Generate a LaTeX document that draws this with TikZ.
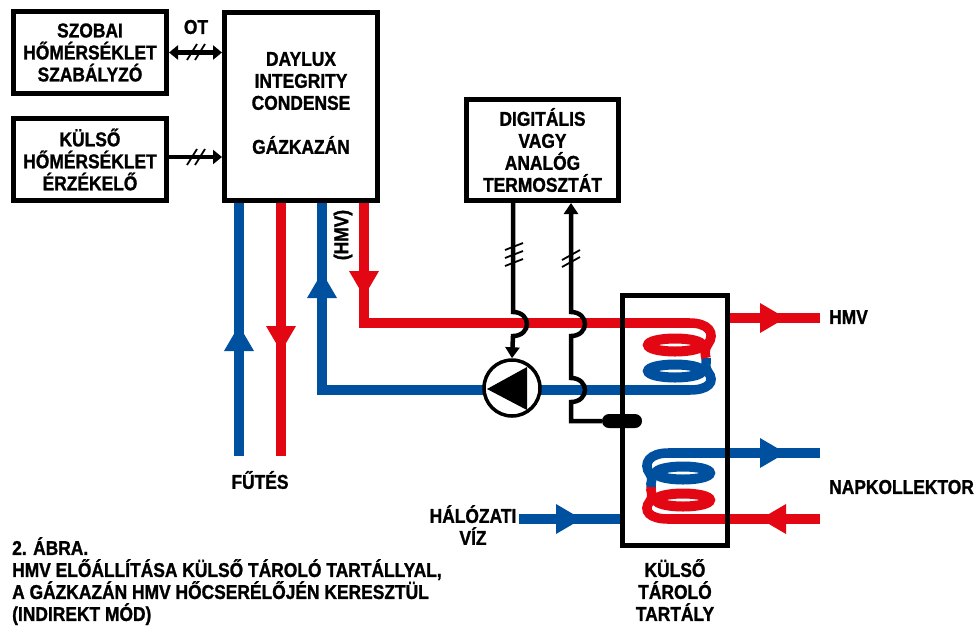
\documentclass[tikz,border=0pt]{standalone}
\usepackage{fontspec}
\usepackage{xcolor}
\usetikzlibrary{arrows.meta,decorations.markings}
\setmainfont{Liberation Sans}[FakeStretch=0.87,FakeBold=1.2]
\definecolor{pipeblue}{HTML}{0050A0}
\definecolor{pipered}{HTML}{E30613}

\begin{document}
\begin{tikzpicture}[
        x=1pt,
        y=-1pt,
        box/.style={
            draw,
            rectangle,
            line width=5pt,
            minimum width=153pt,
            align=center,
            font=\bfseries\fontsize{20}{22}\selectfont
        },
        lbl/.style={
            inner sep=0pt,
            align=center,
            font=\bfseries\fontsize{20}{22}\selectfont
        },
        pipe/.style={
            line width=9.5pt
        },
        bluepipe/.style={
            pipe,
            color=pipeblue
        },
        redpipe/.style={
            pipe,
            color=pipered
        },
        bluecoil/.style={
            line width=10pt,
            color=pipeblue
        },
        redcoil/.style={
            line width=10pt,
            color=pipered
        },
        head/.style={
            postaction={decorate,decoration={markings,
                mark=at position #1 with {\arrow{Triangle[length=26pt,width=28pt]}}}}
        },
        wire/.style={
            line width=4.5pt
        },
        signal/.style={
            line width=4.5pt,
            arrows={Triangle[length=9pt,width=14pt]-Triangle[length=9pt,width=14pt]}
        },
        slash/.style={
            line width=1.8pt
        }
    ]
    \useasboundingbox (0,0) rectangle (976,625);
    
    \node[box, minimum height=82pt] (szobai) at (90,52.5) {SZOBAI\\HŐMÉRSÉKLET\\SZABÁLYZÓ};
    \node[box, minimum height=82pt] (kulso) at (90,159.5) {KÜLSŐ\\HŐMÉRSÉKLET\\ÉRZÉKELŐ};
    \node[box, minimum height=188pt] (boiler) at (301,106.5) {};
    \node[box, minimum width=152pt, minimum height=101pt] (termostat) at (542.5,150) {DIGITÁLIS\\VAGY\\ANALÓG\\TERMOSZTÁT};
    
    \node[lbl] (boilertext) at (301,103) {DAYLUX\\INTEGRITY\\CONDENSE\\[22pt]GÁZKAZÁN};
    \node[lbl] (ot) at (196,27) {OT};
    \node[lbl, rotate=90] (hmvpipe) at (343,235) {(HMV)};
    \node[lbl] (futes) at (260,480) {FŰTÉS};
    \node[lbl] (halozati) at (473,525) {HÁLÓZATI\\VÍZ};
    \node[lbl, anchor=west] (hmvout) at (829,317) {HMV};
    \node[lbl, anchor=west] (napkollektor) at (829,487) {NAPKOLLEKTOR};
    \node[lbl] (tarolotext) at (675,590) {KÜLSŐ\\TÁROLÓ\\TARTÁLY};
    \node[lbl, anchor=north west, align=left] (caption) at (12,537) {2. ÁBRA.\\HMV ELŐÁLLÍTÁSA KÜLSŐ TÁROLÓ TARTÁLLYAL,\\A GÁZKAZÁN HMV HŐCSERÉLŐJÉN KERESZTÜL\\(INDIREKT MÓD)};
    
    % heating circuit
    \coordinate (futesblue) at (239,456);
    \coordinate (futesred) at (281,456);
    \draw[bluepipe, head=131pt] (futesblue) -- (futesblue |- boiler.south);
    \draw[redpipe, head=149pt] (futesred |- boiler.south) -- (futesred);
    
    % upper coil
    \coordinate (hmvdown) at (364,323);
    \coordinate (hmvback) at (322,390);
    \coordinate (coilredend) at (690,323);
    \coordinate (coilblueend) at (690,390);
    \coordinate (coiljoin) at (706,358);
    \draw[bluecoil] (675,371) ellipse (27 and 6.5);
    \draw[bluepipe] (coiljoin) .. controls (707,363) and (704,367) .. (708,372)
        .. controls (716,382) and (708,390) .. (coilblueend);
    \draw[redcoil] (675,345) ellipse (27 and 6.5);
    \draw[redpipe] (coilredend) .. controls (708,323) and (716,333) .. (708,344)
        .. controls (704,350) and (705,354) .. (coiljoin);
    \draw[bluepipe, head=486pt] (coilblueend) -- (hmvback) -- (hmvback |- boiler.south);
    \draw[redpipe, head=94pt] (hmvdown |- boiler.south) -- (hmvdown) -- (coilredend);
    
    % lower coil
    \coordinate (solarout) at (820,453);
    \coordinate (solarin) at (820,519);
    \coordinate (coiltop) at (668,453);
    \coordinate (coilbottom) at (668,519);
    \coordinate (coillow) at (651,487);
    \draw[bluecoil] (683,473) ellipse (27 and 6.5);
    \draw[bluepipe] (coillow) .. controls (650,482) and (654,479) .. (650,474)
        .. controls (642,463) and (650,453) .. (coiltop);
    \draw[redcoil] (683,500) ellipse (27 and 6.5);
    \draw[redpipe] (coilbottom) .. controls (650,519) and (642,511) .. (650,501)
        .. controls (654,495) and (650,491) .. (coillow);
    \draw[bluepipe, head=118pt] (coiltop) -- (solarout);
    \draw[redpipe, head=60pt] (solarin) -- (coilbottom);
    
    % outlet and mains
    \coordinate (hmvstart) at (728,318);
    \coordinate (hmvend) at (820,318);
    \coordinate (mains) at (519,519);
    \coordinate (mainsend) at (622,519);
    \draw[redpipe, head=58pt] (hmvstart) -- (hmvend);
    \draw[bluepipe, head=63pt] (mains) -- (mainsend);
    
    \node[draw, circle, fill=white, line width=3.5pt, minimum size=56pt, inner sep=0pt] (pump) at (512,388) {};
    \fill (487,389) -- (527,367) -- (527,410) -- cycle;
    
    \node[draw, rectangle, line width=5pt, minimum width=105pt, minimum height=250pt] (tarolo) at (675,420.5) {};
    \node[fill=black, rectangle, rounded corners=7pt, minimum width=40pt, minimum height=14pt, inner sep=0pt] (sensor) at (622,421) {};
    
    % signal lines
    \coordinate (wirea) at (513,312);
    \coordinate (wireb) at (571,312);
    \coordinate (wirecorner) at (571,421);
    \draw[wire, -{Triangle[length=11pt,width=14pt]}] (wirea |- termostat.south) -- (wirea)
        .. controls (522,312) and (527,318) .. (527,324)
        .. controls (527,330) and (522,336) .. (513,336) -- (pump.north);
    \draw[wire, {Triangle[length=11pt,width=14pt]}-] (wireb |- termostat.south) -- (wireb)
        .. controls (580,312) and (585,318) .. (585,324)
        .. controls (585,330) and (580,336) .. (571,336) -- (571,378)
        .. controls (580,378) and (585,384) .. (585,390)
        .. controls (585,396) and (580,402) .. (571,402) -- (wirecorner) -- (sensor.west);
    \draw[signal] (szobai.east) -- (szobai.east -| boiler.west);
    \coordinate (kulsoport) at (167,157);
    \draw[wire, -{Triangle[length=9pt,width=14pt]}] (kulsoport) -- (kulsoport -| boiler.west);
    
    % wire count ticks
    \draw[slash] (187,60) -- (197,44);
    \draw[slash] (195,60) -- (205,44);
    \draw[slash] (187,165) -- (197,149);
    \draw[slash] (195,165) -- (205,149);
    \draw[slash] (505,250) -- (523,243);
    \draw[slash] (505,258) -- (523,251);
    \draw[slash] (505,266) -- (523,259);
    \draw[slash] (562,260) -- (580,250);
    \draw[slash] (562,267) -- (580,257);
    
\end{tikzpicture}
\end{document}
